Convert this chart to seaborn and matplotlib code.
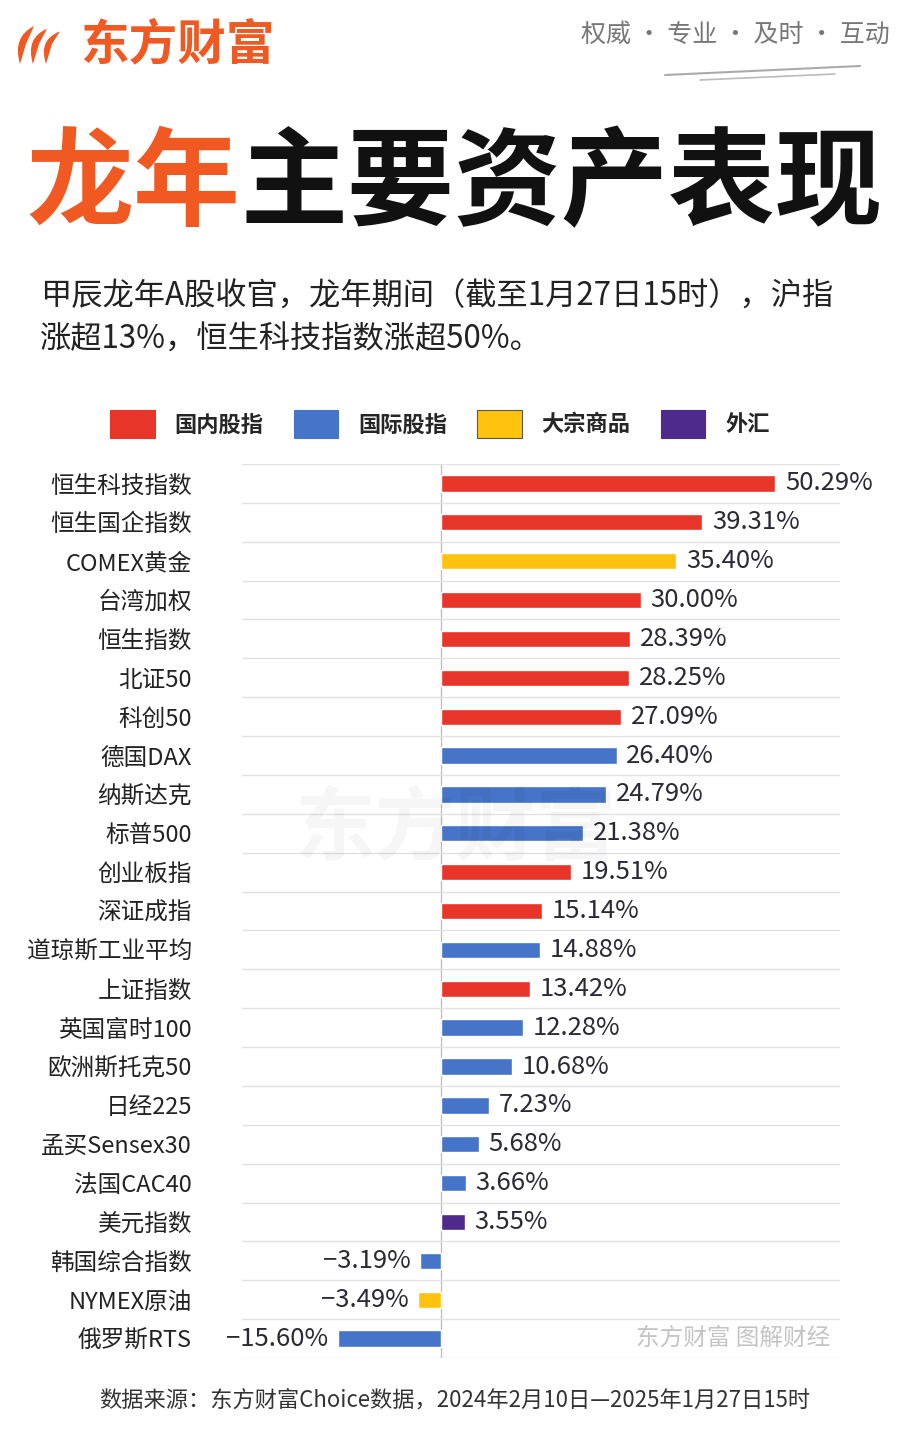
import matplotlib
matplotlib.use("Agg")
import matplotlib.pyplot as plt
import matplotlib.transforms as mtransforms
import numpy as np
import pandas as pd
import seaborn as sns
from matplotlib.patches import Patch, PathPatch
from matplotlib.path import Path

# 数据
names = ["恒生科技指数", "恒生国企指数", "COMEX黄金", "台湾加权", "恒生指数", "北证50",
         "科创50", "德国DAX", "纳斯达克", "标普500", "创业板指", "深证成指",
         "道琼斯工业平均", "上证指数", "英国富时100", "欧洲斯托克50", "日经225",
         "孟买Sensex30", "法国CAC40", "美元指数", "韩国综合指数", "NYMEX原油", "俄罗斯RTS"]
values = [50.29, 39.31, 35.40, 30.00, 28.39, 28.25, 27.09, 26.40, 24.79, 21.38, 19.51,
          15.14, 14.88, 13.42, 12.28, 10.68, 7.23, 5.68, 3.66, 3.55, -3.19, -3.49, -15.60]
types = ["国内股指", "国内股指", "大宗商品", "国内股指", "国内股指", "国内股指",
         "国内股指", "国际股指", "国际股指", "国际股指", "国内股指", "国内股指",
         "国际股指", "国内股指", "国际股指", "国际股指", "国际股指",
         "国际股指", "国际股指", "外汇", "国际股指", "大宗商品", "国际股指"]
type_order = ["国内股指", "国际股指", "大宗商品", "外汇"]
type_colors = ["#E8352A", "#4674C8", "#FFC20E", "#4E2A8C"]

sns.set_theme(style="white")
plt.rcParams["font.family"] = ["Noto Sans CJK SC", "DejaVu Sans"]

df = pd.DataFrame({"name": names, "value": values, "type": types})
palette = dict(zip(type_order, type_colors))

fig = plt.figure(figsize=(9.07, 14.33), dpi=100)
ax = fig.add_axes([0.2668, 0.0523, 0.6591, 0.6239])

sns.barplot(data=df, y="name", x="value", hue="type", hue_order=type_order,
            palette=palette, dodge=False, width=0.42, legend=False,
            orient="h", ax=ax, saturation=1)

ax.set_xlim(-30, 60)
ax.set_ylim(len(names) - 0.5, -0.5)
ax.set_xlabel("")
ax.set_ylabel("")
ax.set_xticks([])
ax.set_yticks(np.arange(-0.5, len(names)), minor=True)
ax.grid(axis="y", which="minor", color="#e2e2e2", lw=1)
ax.grid(axis="y", which="major", visible=False)
ax.tick_params(axis="y", which="both", length=0, pad=36, labelsize=17, labelcolor="#222222")
for s in ax.spines.values():
    s.set_visible(False)
ax.axvline(0, color="#bbbbbb", lw=0.9, zorder=0)

for i, v in enumerate(values):
    txt = f"{v:.2f}%".replace("-", "−")
    if v >= 0:
        ax.annotate(txt, (v, i), xytext=(7, 0), textcoords="offset points",
                    ha="left", va="center", fontsize=18.5, color="#2a2a35")
    else:
        ax.annotate(txt, (v, i), xytext=(-7, 0), textcoords="offset points",
                    ha="right", va="center", fontsize=18.5, color="#2a2a35")

# 图例
handles = [Patch(facecolor=c, edgecolor="#555555" if t == "大宗商品" else c, lw=0.8, label=t)
           for t, c in zip(type_order, type_colors)]
fig.legend(handles=handles, loc="center", bbox_to_anchor=(0.485, 1 - 424 / 1433), ncol=4,
           frameon=False, handlelength=2.0, handleheight=1.5, handletextpad=0.9,
           columnspacing=1.35, prop={"size": 16, "weight": "bold"})

# 标题与文字
fig.text(26 / 907, 1 - 186 / 1433, "龙年", fontsize=77, fontweight="bold",
         color="#F05A22", ha="left", va="center")
fig.text(240 / 907, 1 - 186 / 1433, "主要资产表现", fontsize=77, fontweight="bold",
         color="#111111", ha="left", va="center")
fig.text(40 / 907, 1 - 297 / 1433, "甲辰龙年A股收官，龙年期间（截至1月27日15时），沪指",
         fontsize=22.5, color="#222222", ha="left", va="center")
fig.text(40 / 907, 1 - 340 / 1433, "涨超13%，恒生科技指数涨超50%。",
         fontsize=22.5, color="#222222", ha="left", va="center")

# 标志
px = mtransforms.Affine2D().scale(1, -1).translate(0, 1433)
for dx, h in [(0, 1.0), (13, 0.85), (26, 0.7)]:
    verts = [(20 + dx, 64), (12 + dx, 45 - 8 * h), (34 + dx, 26 + 6 * (1 - h) * 3),
             (26 + dx, 44), (20 + dx, 64)]
    codes = [Path.MOVETO, Path.CURVE3, Path.CURVE3, Path.LINETO, Path.CLOSEPOLY]
    fig.add_artist(PathPatch(Path(verts, codes), facecolor="#F05A22", edgecolor="none",
                             transform=px))
fig.text(80 / 907, 1 - 45 / 1433, "东方财富", fontsize=35, fontweight="bold",
         color="#F05A22", ha="left", va="center")
fig.text(890 / 907, 1 - 35 / 1433, "权威 · 专业 · 及时 · 互动", fontsize=18,
         color="#777777", ha="right", va="center")
fig.add_artist(plt.Line2D([665 / 907, 860 / 907], [1 - 75 / 1433, 1 - 66 / 1433],
                          color="#aaaaaa", lw=1.5))
fig.add_artist(plt.Line2D([700 / 907, 835 / 907], [1 - 80 / 1433, 1 - 74 / 1433],
                          color="#bbbbbb", lw=1.2))

# 水印
fig.text(455 / 907, 1 - 830 / 1433, "东方财富", fontsize=58, fontweight="bold",
         color="#000000", alpha=0.035, ha="center", va="center")
fig.text(830 / 907, 1 - 1338 / 1433, "东方财富 图解财经", fontsize=17,
         color="#c4c4c4", ha="right", va="center")

fig.text(455 / 907, 1 - 1400 / 1433, "数据来源：东方财富Choice数据，2024年2月10日—2025年1月27日15时",
         fontsize=16, color="#333333", ha="center", va="center")

fig.savefig("out.png", dpi=100, facecolor="white")
